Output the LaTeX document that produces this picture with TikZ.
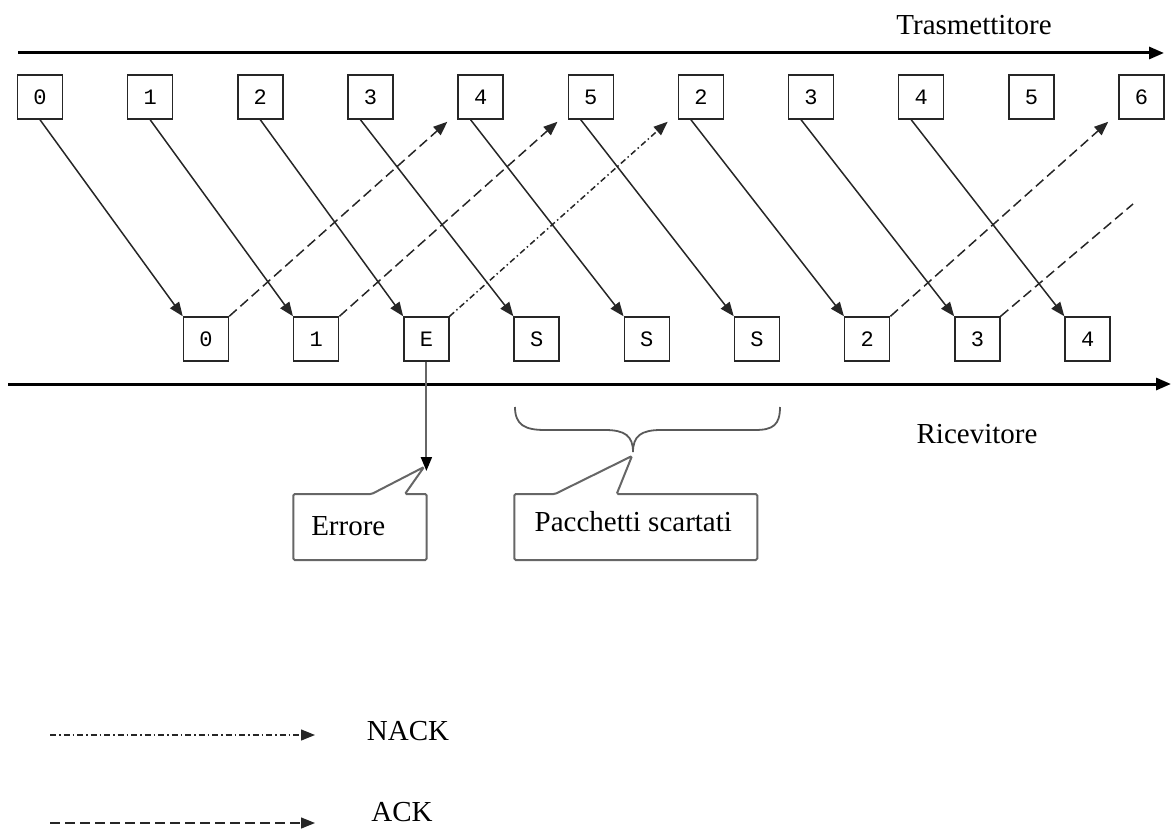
\documentclass[tikz,border=0pt]{standalone}
\usepackage{fontspec}
\setmainfont{Liberation Serif}
\newfontfamily\monofnt{Liberation Mono}
\usetikzlibrary{arrows.meta,calc}
\begin{document}
\begin{tikzpicture}[x=1pt,y=-1pt,
  pkt/.style={draw=black!85,line width=1.5pt,minimum width=45pt,minimum height=44pt,inner sep=0pt,font=\monofnt\fontsize{22}{22}\selectfont},
  lbl/.style={font=\fontsize{29}{29}\selectfont,inner sep=0pt,anchor=base},
  axis/.style={line width=3pt,-{Triangle[length=15pt,width=12pt]}},
  tipa/.style={-{Triangle[length=14pt,width=11pt]}},
  data/.style={line width=1.5pt,draw=black!85,tipa},
  ackline/.style={line width=1.5pt,draw=black!85,dash pattern=on 10pt off 5pt},
  ack/.style={ackline,tipa},
  nack/.style={line width=1.5pt,draw=black!85,tipa,dash pattern=on 6pt off 3pt on 1.5pt off 3pt},
  callout/.style={draw=black!60,line width=2pt,rounded corners=1.5pt},
  bracel/.style={draw=black!65,line width=1.8pt},
]
\useasboundingbox (0,0) rectangle (1172,829);

% time axes
\coordinate (tstart) at (18,53);
\coordinate (tend) at (1164,53);
\draw[axis] (tstart) -- (tend);
\coordinate (rstart) at (8,384);
\coordinate (rend) at (1171,384);
\draw[axis] (rstart) -- (rend);
\node[lbl] (trasm) at (974,35) {Trasmettitore};
\node[lbl] (ricev) at (977,443) {Ricevitore};

% packets
\foreach \l [count=\i from 0] in {0,1,2,3,4,5,2,3,4,5,6}
  \node[pkt] (t\i) at ({40+110.15*\i},97) {\l};
\foreach \l [count=\j from 0] in {0,1,E,S,S,S,2,3,4}
  \node[pkt] (b\j) at ({206+110.2*\j},339) {\l};

% data transmissions
\foreach \i/\o in {0/0,1/0,2/0,3/-10,4/-10,5/-10,6/-10,7/-10,8/-10}
  \draw[data] ($(t\i.south)+(\o,0)$) -- (b\i.north west);

% acknowledgements
\draw[ack] (b0.north east) -- ($(t4.south west)+(-10,2)$);
\draw[ack] (b1.north east) -- ($(t5.south west)+(-10,2)$);
\draw[nack] (b2.north east) -- ($(t6.south west)+(-10,2)$);
\draw[ack] (b6.north east) -- ($(t10.south west)+(-10,2)$);
\coordinate (ackend) at (1133,204);
\draw[ackline] (b7.north east) -- (ackend);

% error marker
\coordinate (errtip) at (426.4,471);
\draw[draw=black!60,line width=2pt,-{Triangle[length=14pt,width=11pt,color=black]}] (b2.south) -- (errtip);
\draw[callout] (293.3,494) -- (371.7,494) -- (424,467) -- (405,494) -- (426.7,494) -- (426.7,560) -- (293.3,560) -- cycle;
\node[lbl] (errore) at (348.3,535) {Errore};

% brace for discarded packets
\draw[bracel] (515,407) .. controls (515,425) and (525,430) .. (545,430) -- (605,430)
  .. controls (625,430) and (633,436) .. (633,452)
  .. controls (633,436) and (641,430) .. (661,430) -- (755,430)
  .. controls (773,430) and (780,425) .. (780,407);
\draw[callout] (514.3,494) -- (555,494) -- (632,456) -- (616.7,494) -- (757.3,494) -- (757.3,560) -- (514.3,560) -- cycle;
\node[lbl] (scartati) at (633.3,531.7) {Pacchetti scartati};

% legend
\coordinate (n1) at (50,735);
\coordinate (n2) at (315,735);
\draw[nack,line width=1.2pt] (n1) -- (n2);
\node[lbl] (nacklbl) at (408,740) {NACK};
\coordinate (a1) at (50,823);
\coordinate (a2) at (315,823);
\draw[ack,line width=1.2pt] (a1) -- (a2);
\node[lbl] (acklbl) at (402,821.7) {ACK};
\end{tikzpicture}
\end{document}
